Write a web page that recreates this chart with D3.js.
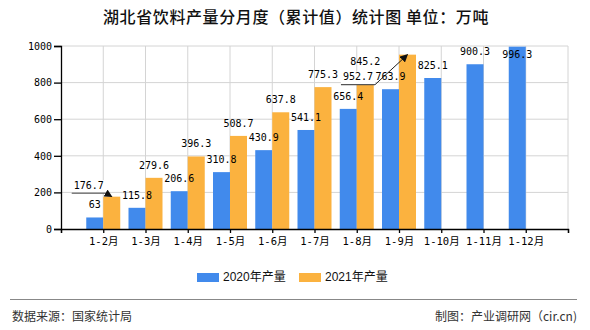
<!DOCTYPE html>
<html><head><meta charset="utf-8">
<script src="https://cdn.jsdelivr.net/npm/d3@7"></script>
<style>
html,body{margin:0;padding:0;background:#fff;}
svg{display:block;}
</style></head>
<body>
<svg id="chart" width="590" height="330"></svg>
<script>
const categories = ["1-2月","1-3月","1-4月","1-5月","1-6月","1-7月","1-8月","1-9月","1-10月","1-11月","1-12月"];
const values2020 = [63,115.8,206.6,310.8,430.9,541.1,656.4,763.9,825.1,900.3,996.3];
const values2021 = [176.7,279.6,396.3,508.7,637.8,775.3,845.2,952.7,null,null,null];
const seriesNames = ["2020年产量","2021年产量"];
const yTicks = [0,200,400,600,800,1000];

const colors = ["#418aec","#fbb23f"];
const series = [values2020, values2021];

const svg = d3.select("#chart");
const L = 61, R = 568, T = 46, B = 229;
const monoFont = "'DejaVu Sans Mono','Noto Sans CJK SC',monospace";
const cjkFont = "'Liberation Sans','Noto Sans CJK SC',sans-serif";

// title
svg.append("text").attr("x",296).attr("y",19).attr("text-anchor","middle")
  .attr("dominant-baseline","middle")
  .style("font-family","'Noto Sans CJK SC',sans-serif").style("font-size","16px")
  .style("letter-spacing","0.6px").style("font-weight","500").attr("fill","#111")
  .text("湖北省饮料产量分月度（累计值）统计图 单位：万吨");

const x = d3.scaleLinear().domain([0, categories.length+1]).range([L,R]);
const x1 = d3.scaleBand().domain([0,1]).range([-17,17]).padding(0);
const y = d3.scaleLinear().domain([0,1000]).range([B,T]);

// grid
const g = svg.append("g");
g.selectAll("line.h").data(yTicks.filter(d=>d>0)).join("line")
  .attr("x1",L).attr("x2",R).attr("y1",d=>y(d)).attr("y2",d=>y(d))
  .attr("stroke","#d4d4d4").attr("stroke-width",1);
g.selectAll("line.v").data(d3.range(1,categories.length+2)).join("line")
  .attr("x1",d=>x(d)).attr("x2",d=>x(d)).attr("y1",T).attr("y2",B)
  .attr("stroke","#d4d4d4").attr("stroke-width",1);

// bars
series.forEach((vals,s)=>{
  svg.append("g").selectAll("rect").data(vals.map((v,i)=>({v,i})).filter(d=>d.v!=null)).join("rect")
    .attr("x",d=>x(d.i+1)+x1(s)).attr("width",x1.bandwidth())
    .attr("y",d=>y(d.v)).attr("height",d=>B-y(d.v)).attr("fill",colors[s]);
});

// axes
const yAxis = svg.append("g").attr("transform",`translate(${L},0)`)
  .call(d3.axisLeft(y).tickValues(yTicks).tickSize(7).tickPadding(2).tickFormat(d3.format("d")));
const xAxis = svg.append("g").attr("transform",`translate(0,${B})`)
  .call(d3.axisBottom(x).tickValues(d3.range(0,categories.length+2)).tickSize(4).tickPadding(5)
    .tickFormat(i=>categories[i-1]||""));
[yAxis,xAxis].forEach(a=>{
  a.select(".domain").attr("stroke","#000").attr("stroke-width",1.3);
  a.selectAll(".tick line").attr("stroke","#000").attr("stroke-width",1.3);
  a.selectAll("text").attr("fill","#000").style("font-family",monoFont).style("font-size","10px");
});
xAxis.selectAll("text").style("font-size","10.5px");

// value labels
const callouts = [{s:1,i:0,dx:-23,dy:1},{s:1,i:7,dx:-49.5,dy:34.5}];
svg.append("defs").append("marker").attr("id","arr").attr("viewBox","0 0 10 10")
  .attr("refX",9).attr("refY",5).attr("markerWidth",8).attr("markerHeight",8)
  .attr("orient","auto").append("path").attr("d","M0,0L10,5L0,10z").attr("fill","#111");

const calloutLayer = svg.append("g");
const labelLayer = svg.append("g");
series.forEach((vals,s)=>{
  vals.forEach((v,i)=>{
    if(v==null) return;
    const cx = x(i+1)+x1(s)+x1.bandwidth()/2;
    const top = y(v);
    const co = callouts.find(c=>c.s===s&&c.i===i);
    let lx = cx, ly = top-12;
    if(co){ lx = cx+co.dx; ly = top-12+co.dy; }
    else if(ly-5 < T) ly = top+8;
    const t = labelLayer.append("text").attr("x",lx).attr("y",ly).attr("text-anchor","middle")
      .attr("dominant-baseline","middle").style("font-family",monoFont).style("font-size","10px")
      .attr("fill","#000").text(v);
    if(co){
      const w = t.node().getComputedTextLength();
      const l = lx-w/2-2, r = lx+w/2+2, uy = ly+7.5;
      calloutLayer.append("rect").attr("x",l).attr("y",ly-5.5).attr("width",r-l).attr("height",uy-(ly-5.5))
        .attr("fill","#fff");
      calloutLayer.append("line").attr("x1",l).attr("x2",r).attr("y1",uy).attr("y2",uy)
        .attr("stroke","#555").attr("stroke-width",1.3);
      calloutLayer.append("line").attr("x1",r).attr("y1",uy).attr("x2",cx).attr("y2",top)
        .attr("stroke","#222").attr("stroke-width",1).attr("marker-end","url(#arr)");
    }
  });
});

// legend
const leg = svg.append("g");
const legX = [197,299];
seriesNames.forEach((n,s)=>{
  leg.append("rect").attr("x",legX[s]).attr("y",273).attr("width",22).attr("height",9).attr("fill",colors[s]);
  leg.append("text").attr("x",legX[s]+26).attr("y",277.5).attr("dominant-baseline","middle")
    .style("font-family",cjkFont).style("font-size","12px").attr("fill","#111").text(n);
});

// footer
svg.append("line").attr("x1",10).attr("x2",577).attr("y1",299.5).attr("y2",299.5)
  .attr("stroke","#888").attr("stroke-width",1);
svg.append("text").attr("x",12).attr("y",318).attr("dominant-baseline","middle")
  .style("font-family","'Noto Sans CJK SC',sans-serif").style("font-size","12px").attr("fill","#333")
  .text("数据来源：国家统计局");
svg.append("text").attr("x",577).attr("y",318).attr("dominant-baseline","middle").attr("text-anchor","end")
  .style("font-family","'Noto Sans CJK SC',sans-serif").style("font-size","12px").attr("fill","#333")
  .text("制图：产业调研网（cir.cn)");
</script>
</body></html>
